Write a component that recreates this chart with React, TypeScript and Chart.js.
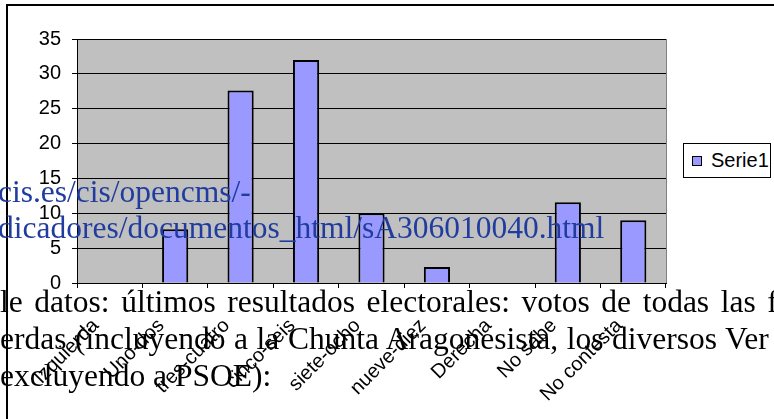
import React, { useEffect, useRef } from "react";
import { Chart, registerables } from "chart.js";

Chart.register(...registerables);

const categories = [
  "Izquierda",
  "Uno-dos",
  "tres-cuatro",
  "cinco-seis",
  "siete-ocho",
  "nueve-diez",
  "Derecha",
  "No sabe",
  "No contesta",
];
const serie1 = [0, 7.7, 27.6, 32, 10, 2.3, 0, 11.6, 9];
const seriesName = "Serie1";
const yMin = 0;
const yMax = 35;
const yStep = 5;

const linkLines = ["cis.es/cis/opencms/-", "dicadores/documentos_html/sA306010040.html"];
const bodyLines = [
  "le datos: últimos resultados electorales: votos de todas las f",
  "erdas (incluyendo a la Chunta Aragonesista, los diversos Ver",
  "excluyendo a PSOE):",
];

const SANS = "'Liberation Sans', Arial, sans-serif";
const SERIF = "'Liberation Serif', 'Times New Roman', serif";

const plotFrame = {
  id: "plotFrame",
  beforeDraw(chart: any) {
    const { ctx, chartArea } = chart;
    ctx.save();
    ctx.fillStyle = "#C0C0C0";
    ctx.fillRect(chartArea.left, chartArea.top, chartArea.right - chartArea.left, chartArea.bottom - chartArea.top);
    ctx.restore();
  },
  afterDraw(chart: any) {
    const { ctx, chartArea } = chart;
    ctx.save();
    ctx.strokeStyle = "#808080";
    ctx.lineWidth = 1;
    ctx.beginPath();
    ctx.moveTo(chartArea.right + 0.5, chartArea.top);
    ctx.lineTo(chartArea.right + 0.5, chartArea.bottom);
    ctx.stroke();
    ctx.restore();
  },
};

export default function App() {
  const canvasRef = useRef<HTMLCanvasElement | null>(null);

  useEffect(() => {
    if (!canvasRef.current) return;
    const chart = new Chart(canvasRef.current, {
      type: "bar",
      data: {
        labels: categories,
        datasets: [
          {
            label: seriesName,
            data: serie1,
            backgroundColor: "#9999FF",
            borderColor: "#000000",
            borderWidth: 2,
            barPercentage: 0.4,
            categoryPercentage: 1.0,
          },
        ],
      },
      options: {
        animation: false,
        responsive: true,
        maintainAspectRatio: false,
        layout: { padding: { left: 0, right: 108, top: 39, bottom: 0 } },
        plugins: {
          legend: { display: false },
          tooltip: { enabled: false },
        },
        scales: {
          x: {
            grid: {
              offset: true,
              drawOnChartArea: false,
              drawTicks: true,
              tickLength: 5,
              color: "#000000",
            },
            border: { color: "#000000", width: 1 },
            ticks: {
              autoSkip: false,
              minRotation: 45,
              maxRotation: 45,
              color: "#000000",
              padding: 26,
              labelOffset: -14,
              font: { family: SANS, size: 20 },
            },
            afterFit(scale: any) {
              scale.height = 136;
            },
          },
          y: {
            min: yMin,
            max: yMax,
            ticks: {
              stepSize: yStep,
              color: "#000000",
              padding: 11,
              font: { family: SANS, size: 20 },
            },
            grid: {
              color: "#000000",
              tickLength: 5,
              drawTicks: true,
            },
            border: { color: "#000000", width: 1 },
            afterFit(scale: any) {
              scale.width = 77;
            },
          },
        },
      },
      plugins: [plotFrame],
    });
    return () => chart.destroy();
  }, []);

  const linkTops = [176, 212];
  const bodyTops = [285.6, 322.6, 359.6];
  const bodyWordSpacing = [3.7, 0.7, 0];

  return (
    <div
      style={{
        position: "fixed",
        left: 0,
        top: 0,
        width: 774,
        height: 419,
        overflow: "hidden",
        background: "#ffffff",
      }}
    >
      <canvas ref={canvasRef} style={{ position: "absolute", left: 0, top: 0, width: 774, height: 419 }} />
      <div
        style={{
          position: "absolute",
          left: 6,
          top: 4,
          width: 900,
          height: 600,
          borderLeft: "2px solid #000",
          borderTop: "2px solid #000",
          pointerEvents: "none",
        }}
      />
      <div
        style={{
          position: "absolute",
          left: 683,
          top: 143,
          width: 88,
          height: 35,
          boxSizing: "border-box",
          border: "1px solid #000",
          background: "#fff",
          fontFamily: SANS,
          fontSize: 20,
          display: "flex",
          alignItems: "center",
        }}
      >
        <span
          style={{
            display: "inline-block",
            width: 8,
            height: 8,
            marginLeft: 8,
            marginRight: 9,
            background: "#9999FF",
            border: "1px solid #000",
          }}
        />
        <span>{seriesName}</span>
      </div>
      {linkLines.map((t, i) => (
        <div
          key={"l" + i}
          style={{
            position: "absolute",
            left: -2,
            top: linkTops[i],
            fontFamily: SERIF,
            fontSize: 31.5,
            lineHeight: 1,
            color: "#1F3C9E",
            whiteSpace: "pre",
          }}
        >
          {t}
        </div>
      ))}
      {bodyLines.map((t, i) => (
        <div
          key={"b" + i}
          style={{
            position: "absolute",
            left: 0,
            top: bodyTops[i],
            fontFamily: SERIF,
            fontSize: 31.5,
            lineHeight: 1,
            color: "#000",
            whiteSpace: "pre",
            wordSpacing: bodyWordSpacing[i],
          }}
        >
          {t}
        </div>
      ))}
    </div>
  );
}
